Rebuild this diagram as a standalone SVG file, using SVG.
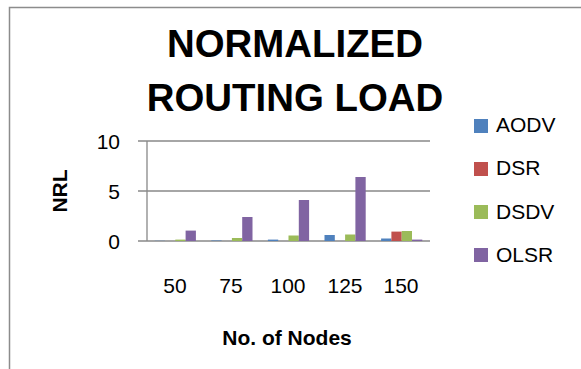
<svg xmlns="http://www.w3.org/2000/svg" width="581" height="369" viewBox="0 0 581 369">
<style>
text{font-family:"Liberation Sans",Arial,sans-serif;fill:#000}
.title{font-size:38.4px;font-weight:bold;text-anchor:middle}
.tick{font-size:21px;text-anchor:end}
.cat{font-size:21px;text-anchor:middle}
.leg{font-size:21px}
.axt{font-size:21px;font-weight:bold;text-anchor:middle}
.grid{stroke:#898989;stroke-width:1.3;fill:none}
.a{fill:#4F81BD}.d{fill:#C0504D}.s{fill:#9BBB59}.o{fill:#8064A2}
</style>
<rect width="581" height="369" fill="#fff"/>
<path d="M9.5 369V7.5H581" stroke="#8c8c8c" stroke-width="1.5" fill="none"/>
<g id="title">
<text class="title" x="295" y="57">NORMALIZED</text>
<text class="title" x="295" y="111">ROUTING LOAD</text>
</g>
<g id="axes">
<path class="grid" d="M138 141H430M138 191H430M138 241H430M147 141V241"/>
<text class="tick" x="120" y="149">10</text>
<text class="tick" x="120" y="199">5</text>
<text class="tick" x="120" y="249">0</text>
<text class="cat" x="175" y="293">50</text>
<text class="cat" x="231" y="293">75</text>
<text class="cat" x="288" y="293">100</text>
<text class="cat" x="345" y="293">125</text>
<text class="cat" x="401" y="293">150</text>
<text class="axt" x="287" y="345">No. of Nodes</text>
<text class="axt" transform="translate(67 191) rotate(-90)" font-size="20">NRL</text>
</g>
<g id="bars">
<rect class="a" x="154.7" y="240.8" width="10.3" height="0.2"/>
<rect class="s" x="175.3" y="239.6" width="10.3" height="1.4"/>
<rect class="o" x="185.6" y="230.6" width="10.3" height="10.4"/>
<rect class="a" x="211.3" y="240.5" width="10.3" height="0.5"/>
<rect class="s" x="231.9" y="238" width="10.3" height="3"/>
<rect class="o" x="242.2" y="217" width="10.3" height="24"/>
<rect class="a" x="267.9" y="239.6" width="10.3" height="1.4"/>
<rect class="s" x="288.5" y="235.5" width="10.3" height="5.5"/>
<rect class="o" x="298.8" y="200" width="10.3" height="41"/>
<rect class="a" x="324.5" y="235" width="10.3" height="6"/>
<rect class="s" x="345.1" y="234.5" width="10.3" height="6.5"/>
<rect class="o" x="355.4" y="177" width="10.3" height="64"/>
<rect class="a" x="381.1" y="238.5" width="10.3" height="2.5"/>
<rect class="d" x="391.4" y="231.6" width="10.3" height="9.4"/>
<rect class="s" x="401.7" y="231" width="10.3" height="10"/>
<rect class="o" x="412" y="239.6" width="10.3" height="1.4"/>
</g>
<g id="legend">
<rect class="a" x="474" y="119" width="14" height="14"/>
<text class="leg" x="496" y="132">AODV</text>
<rect class="d" x="474" y="162" width="14" height="14"/>
<text class="leg" x="496" y="175">DSR</text>
<rect class="s" x="474" y="205" width="14" height="14"/>
<text class="leg" x="496" y="219">DSDV</text>
<rect class="o" x="474" y="248" width="14" height="14"/>
<text class="leg" x="496" y="262">OLSR</text>
</g>
</svg>
